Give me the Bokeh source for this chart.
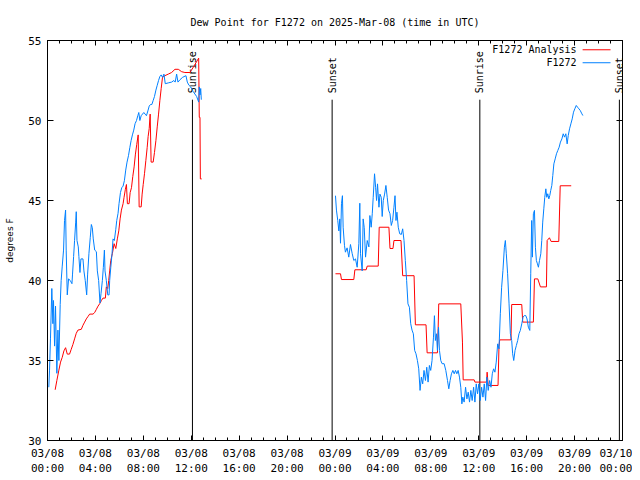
from math import pi
from bokeh.plotting import figure
from bokeh.models import FixedTicker, LinearAxis, Range1d
from bokeh.core.properties import value
from bokeh.embed import file_html
from bokeh.resources import INLINE

# ---------------- data (hours since 2025-03-08 00:00 UTC, dew point in deg F) ----------------
TITLE = "Dew Point for F1272 on 2025-Mar-08 (time in UTC)"
Y_LABEL = "degrees F"
SERIES_NAMES = ["F1272 Analysis", "F1272"]

x_tick_hours = [0, 4, 8, 12, 16, 20, 24, 28, 32, 36, 40, 44, 48]
x_tick_labels = ["03/08\n00:00", "03/08\n04:00", "03/08\n08:00", "03/08\n12:00", "03/08\n16:00",
                 "03/08\n20:00", "03/09\n00:00", "03/09\n04:00", "03/09\n08:00", "03/09\n12:00",
                 "03/09\n16:00", "03/09\n20:00", "03/10\n00:00"]
x_minor_hours = list(range(0, 49))
y_ticks = [30, 35, 40, 45, 50, 55]

sun_hours = [12.1, 23.76, 36.09, 47.74]
sun_labels = ["Sunrise", "Sunset", "Sunrise", "Sunset"]

# F1272 observations, first stretch
obs_day1_hours = [0.11, 0.17, 0.25, 0.36, 0.45, 0.50, 0.59, 0.67, 0.78, 0.87,
                  0.95, 1.06, 1.14, 1.23, 1.34, 1.42, 1.51, 1.56, 1.65, 1.76,
                  1.90, 2.04, 2.09, 2.18, 2.26, 2.35, 2.40, 2.46, 2.57, 2.62,
                  2.71, 2.79, 2.96, 3.04, 3.15, 3.27, 3.35, 3.46, 3.57, 3.66,
                  3.74, 3.82, 3.94, 4.08, 4.16, 4.27, 4.38, 4.47, 4.58, 4.66,
                  4.75, 4.80, 4.91, 5.03, 5.14, 5.19, 5.28, 5.39, 5.47, 5.58,
                  5.70, 5.78, 5.89, 5.97, 6.09, 6.20, 6.31, 6.42, 6.53, 6.64,
                  6.76, 6.87, 6.98, 7.09, 7.20, 7.31, 7.43, 7.54, 7.62, 7.71,
                  7.82, 7.93, 8.04, 8.15, 8.26, 8.38, 8.49, 8.60, 8.71, 8.82,
                  8.93, 9.05, 9.16, 9.27, 9.38, 9.49, 9.60, 9.72, 9.83, 10.08,
                  10.36, 10.55, 10.66, 10.78, 10.89, 11.06, 11.28, 11.56, 11.67, 11.81,
                  11.95, 12.17, 12.45, 12.62, 12.67, 12.73, 12.79, 12.84]
obs_day1_dewpt = [33.33, 34.4, 36.4, 39.5, 37.3, 38.75, 35.9, 38.4, 34.2, 36.9,
                  35.0, 38.5, 40.0, 40.9, 41.9, 43.75, 44.4, 41.9, 39.1, 40.1,
                  40.0, 39.8, 40.4, 41.5, 42.5, 43.6, 44.3, 42.5, 42.1, 41.5,
                  40.5, 41.35, 41.35, 40.6, 40.0, 39.1, 40.4, 41.7, 42.7, 43.5,
                  43.3, 42.6, 41.9, 41.8, 40.6, 40.0, 38.6, 39.2, 40.0, 40.8,
                  41.9, 40.6, 40.0, 39.1, 39.1, 40.0, 40.8, 41.7, 42.6, 42.5,
                  43.2, 43.75, 44.2, 44.8, 45.5, 45.8, 45.9, 46.25, 46.9, 47.4,
                  47.8, 48.3, 48.75, 49.1, 49.4, 49.8, 50.0, 50.3, 50.5, 50.0,
                  50.3, 50.4, 50.5, 50.4, 50.3, 50.6, 50.9, 51.0, 51.0, 51.25,
                  51.5, 51.9, 52.2, 52.5, 52.75, 52.85, 52.7, 52.9, 52.3, 52.35,
                  52.4, 52.5, 52.4, 52.9, 52.4, 52.55, 52.7, 52.8, 52.4, 52.2,
                  52.1, 51.8, 51.5, 51.15, 52.1, 51.6, 52.0, 51.3]

# F1272 observations, second stretch
obs_day2_hours = [24.04, 24.12, 24.23, 24.32, 24.40, 24.46, 24.54, 24.62, 24.68, 24.79,
                  24.87, 25.01, 25.15, 25.29, 25.43, 25.57, 25.71, 25.85, 25.99, 26.07,
                  26.13, 26.27, 26.35, 26.44, 26.55, 26.69, 26.83, 26.91, 27.02, 27.11,
                  27.19, 27.30, 27.39, 27.47, 27.55, 27.67, 27.75, 27.86, 27.94, 28.03,
                  28.14, 28.25, 28.36, 28.47, 28.59, 28.70, 28.81, 28.92, 29.01, 29.09,
                  29.17, 29.28, 29.40, 29.54, 29.65, 29.76, 29.87, 29.98, 30.09, 30.21,
                  30.32, 30.43, 30.54, 30.65, 30.76, 30.88, 30.99, 31.10, 31.21, 31.32,
                  31.43, 31.55, 31.66, 31.77, 31.88, 31.99, 32.10, 32.22, 32.30, 32.38,
                  32.47, 32.55, 32.64, 32.72, 32.83, 32.94, 33.11, 33.25, 33.39, 33.50,
                  33.61, 33.72, 33.84, 33.95, 34.06, 34.17, 34.28, 34.39, 34.50, 34.59,
                  34.67, 34.78, 34.90, 35.01, 35.12, 35.23, 35.34, 35.45, 35.57, 35.68,
                  35.79, 35.90, 36.01, 36.12, 36.24, 36.35, 36.46, 36.57, 36.68, 36.79,
                  36.91, 37.02, 37.13, 37.24, 37.35, 37.46, 37.58, 37.69, 37.80, 37.91,
                  38.02, 38.14, 38.22, 38.30, 38.41, 38.53, 38.64, 38.75, 38.83, 38.92,
                  39.03, 39.14, 39.25, 39.36, 39.47, 39.59, 39.70, 39.81, 39.92, 40.03,
                  40.14, 40.26, 40.34, 40.42, 40.48, 40.56, 40.65, 40.73, 40.81, 40.90,
                  40.98, 41.07, 41.18, 41.26, 41.34, 41.43, 41.51, 41.60, 41.68, 41.76,
                  41.85, 41.93, 42.01, 42.10, 42.18, 42.27, 42.38, 42.49, 42.60, 42.71,
                  42.82, 42.94, 43.05, 43.16, 43.27, 43.38, 43.47, 43.58, 43.69, 43.80,
                  43.91, 44.02, 44.14, 44.25, 44.36, 44.47, 44.58, 44.69]
obs_day2_dewpt = [45.3, 44.4, 43.75, 43.1, 43.85, 42.33, 44.8, 45.3, 43.33, 42.2,
                  41.77, 42.04, 41.46, 42.25, 41.7, 41.25, 41.35, 40.83, 42.3, 44.83,
                  41.67, 40.6, 43.85, 43.3, 41.46, 42.5, 42.1, 44.06, 43.33, 44.17,
                  45.2, 46.67, 45.83, 45.0, 46.04, 44.58, 45.4, 45.2, 44.0, 45.0,
                  45.4, 45.94, 45.2, 44.4, 44.17, 43.44, 43.75, 44.58, 45.3, 43.75,
                  44.27, 43.33, 42.92, 42.88, 43.23, 42.5, 41.25, 40.0, 38.54, 38.33,
                  37.3, 36.9, 36.67, 35.63, 35.42, 35.0, 34.48, 33.13, 33.96, 33.54,
                  34.38, 33.75, 34.58, 33.65, 34.69, 34.38, 35.0, 36.46, 37.8, 36.25,
                  36.67, 35.63, 37.08, 35.63, 35.0, 34.8, 34.8, 34.38, 33.75, 33.23,
                  33.75, 34.17, 34.38, 34.17, 34.38, 34.17, 34.38, 33.96, 33.33, 32.29,
                  32.71, 32.4, 33.33, 32.6, 33.02, 32.4, 33.13, 32.5, 33.33, 32.4,
                  33.54, 32.92, 33.54, 32.5, 33.33, 32.71, 33.54, 32.5, 33.96, 33.13,
                  33.75, 33.33, 34.17, 34.48, 34.27, 34.9, 36.04, 35.73, 37.92, 39.58,
                  40.63, 42.08, 42.5, 41.67, 40.42, 38.54, 36.67, 36.25, 35.42, 35.0,
                  35.63, 35.94, 36.25, 36.67, 36.88, 37.29, 37.71, 37.81, 37.81, 37.6,
                  37.08, 36.88, 40.42, 43.75, 41.46, 44.17, 44.38, 42.08, 41.25, 41.04,
                  40.83, 41.25, 41.67, 42.5, 43.65, 44.48, 45.2, 45.73, 45.2, 45.42,
                  45.1, 45.31, 45.63, 45.94, 46.56, 47.29, 47.6, 47.92, 48.13, 48.33,
                  48.65, 48.85, 49.17, 48.96, 49.17, 48.54, 49.06, 49.48, 49.79, 50.1,
                  50.52, 50.73, 50.94, 50.83, 50.73, 50.63, 50.46, 50.31]

# F1272 Analysis, first stretch
ana_day1_hours = [0.64, 0.78, 0.95, 1.09, 1.23, 1.37, 1.51, 1.65, 1.84, 1.98,
                  2.12, 2.26, 2.40, 2.54, 2.82, 2.96, 3.10, 3.24, 3.38, 3.52,
                  3.80, 3.94, 4.08, 4.22, 4.36, 4.50, 4.63, 4.83, 4.91, 5.03,
                  5.11, 5.19, 5.28, 5.42, 5.56, 5.70, 5.83, 5.95, 6.06, 6.17,
                  6.31, 6.39, 6.50, 6.59, 6.67, 6.81, 6.90, 7.01, 7.12, 7.23,
                  7.34, 7.45, 7.57, 7.65, 7.82, 7.90, 7.99, 8.10, 8.21, 8.32,
                  8.40, 8.49, 8.57, 8.65, 8.82, 8.93, 9.05, 9.16, 9.27, 9.38,
                  9.49, 9.60, 9.80, 10.08, 10.36, 10.64, 10.92, 11.20, 11.47, 11.89,
                  12.23, 12.62, 12.67, 12.73, 12.76, 12.87]
ana_day1_dewpt = [33.17, 33.75, 34.4, 34.9, 35.2, 35.6, 35.8, 35.4, 35.4, 35.7,
                  36.0, 36.35, 36.7, 36.9, 36.95, 37.2, 37.4, 37.6, 37.75, 37.9,
                  37.9, 38.0, 38.2, 38.4, 38.55, 38.75, 38.9, 38.9, 39.6, 39.5,
                  40.0, 40.6, 41.25, 41.7, 42.3, 42.0, 42.6, 43.1, 43.85, 44.4,
                  44.8, 45.2, 45.7, 46.0, 44.8, 44.8, 45.5, 45.8, 46.5, 47.1,
                  47.9, 48.5, 49.1, 44.6, 44.6, 45.4, 46.0, 46.7, 47.5, 48.3,
                  49.0, 49.5, 50.4, 47.4, 47.4, 48.0, 48.75, 49.6, 50.4, 51.25,
                  52.0, 52.7, 52.8, 52.9, 53.0, 53.2, 53.2, 53.05, 53.0, 53.0,
                  53.4, 53.9, 50.2, 50.2, 46.35, 46.35]

# F1272 Analysis, second stretch
ana_day2_hours = [24.04, 24.46, 24.54, 25.57, 25.66, 26.60, 26.69, 27.61, 27.69, 28.50,
                  28.59, 28.84, 28.92, 29.51, 29.65, 30.60, 30.71, 31.60, 31.69, 32.55,
                  32.61, 32.66, 34.50, 34.64, 34.70, 35.62, 35.68, 36.65, 36.70, 36.79,
                  37.61, 37.69, 37.75, 38.69, 38.75, 39.59, 39.67, 40.56, 40.65, 40.93,
                  41.15, 41.65, 41.71, 41.90, 42.04, 42.68, 42.80, 43.72]
ana_day2_dewpt = [40.42, 40.42, 40.06, 40.06, 40.67, 40.67, 40.9, 40.9, 43.33, 43.33,
                  42.0, 42.0, 42.5, 42.5, 40.3, 40.3, 37.23, 37.23, 35.48, 35.48,
                  37.0, 38.54, 38.54, 36.15, 33.79, 33.79, 33.65, 33.65, 34.27, 33.44,
                  33.44, 35.9, 36.29, 36.29, 38.5, 38.5, 37.4, 37.4, 40.1, 40.1,
                  39.6, 39.6, 42.5, 42.67, 42.44, 42.44, 45.92, 45.92]

# ---------------- styling ----------------
MONO = "DejaVu Sans Mono"
RED = "#ff0000"
BLUE = "#0080ff"

p = figure(frame_width=575, frame_height=400,
           x_range=Range1d(0, 48), y_range=Range1d(30, 55),
           output_backend="svg", toolbar_location=None,
           min_border_left=47, min_border_right=10, min_border_top=40, min_border_bottom=36,
           background_fill_color="white", border_fill_color="white")
p.grid.visible = False
p.outline_line_color = "black"
p.outline_line_width = 1

p.title.text = TITLE
p.title.text_font = MONO
p.title.text_font_size = "10px"
p.title.text_font_style = "normal"
p.title.text_color = "black"
p.title.align = "center"
p.title.standoff = 26

xticker = FixedTicker(ticks=x_tick_hours, minor_ticks=x_minor_hours)
yticker = FixedTicker(ticks=y_ticks, minor_ticks=[])


def style_axis(ax, show_labels, tick_in, minor_in):
    ax.axis_line_color = "black"
    ax.major_tick_line_color = "black"
    ax.minor_tick_line_color = "black" if minor_in else None
    ax.major_tick_in = tick_in
    ax.major_tick_out = 0
    ax.minor_tick_in = minor_in
    ax.minor_tick_out = 0
    ax.major_label_text_font = MONO
    if show_labels:
        ax.major_label_text_color = "black"
        ax.major_label_text_font_size = "11px"
    else:
        # mirrored gnuplot-style ticks only: labels are not painted at all
        ax.major_label_text_color = None
        ax.major_label_text_font_size = "1px"
        ax.major_label_standoff = 0


xa = p.xaxis[0]
xa.ticker = xticker
style_axis(xa, True, 5, 3)
xa.major_label_overrides = dict(zip(x_tick_hours, x_tick_labels))
xa.major_label_standoff = 6

ya = p.yaxis[0]
ya.ticker = yticker
style_axis(ya, True, 6, 0)
ya.major_label_standoff = 6
ya.axis_label = Y_LABEL
ya.axis_label_text_font = "DejaVu Sans"
ya.axis_label_text_font_size = "9px"
ya.axis_label_text_font_style = "normal"
ya.axis_label_text_color = "black"
ya.axis_label_standoff = 10

top = LinearAxis(ticker=xticker)
style_axis(top, False, 5, 3)
p.add_layout(top, "above")
right = LinearAxis(ticker=yticker)
style_axis(right, False, 6, 0)
p.add_layout(right, "right")

# sunrise / sunset markers
p.segment(x0=sun_hours, y0=30, x1=sun_hours, y1=51.3, line_color="black", line_width=1)
p.text(x=sun_hours, y=51.7, text=sun_labels, angle=pi / 2, text_align="left",
       text_baseline="middle", text_font=value(MONO), text_font_size="10px", text_color="black")

# series
p.line(ana_day1_hours, ana_day1_dewpt, line_color=RED, line_width=1)
p.line(ana_day2_hours, ana_day2_dewpt, line_color=RED, line_width=1)
p.line(obs_day1_hours, obs_day1_dewpt, line_color=BLUE, line_width=1)
p.line(obs_day2_hours, obs_day2_dewpt, line_color=BLUE, line_width=1)

# legend (text right-aligned, sample line to the right, as in gnuplot)
legend_y = [54.42, 53.61]
p.text(x=44.17, y=legend_y, text=SERIES_NAMES, text_align="right", text_baseline="middle",
       text_font=value(MONO), text_font_size="10px", text_color="black")
p.segment(x0=44.67, y0=legend_y[0], x1=47.0, y1=legend_y[0], line_color=RED, line_width=1)
p.segment(x0=44.67, y0=legend_y[1], x1=47.0, y1=legend_y[1], line_color=BLUE, line_width=1)

open("out.html", "w").write(file_html(p, INLINE))
